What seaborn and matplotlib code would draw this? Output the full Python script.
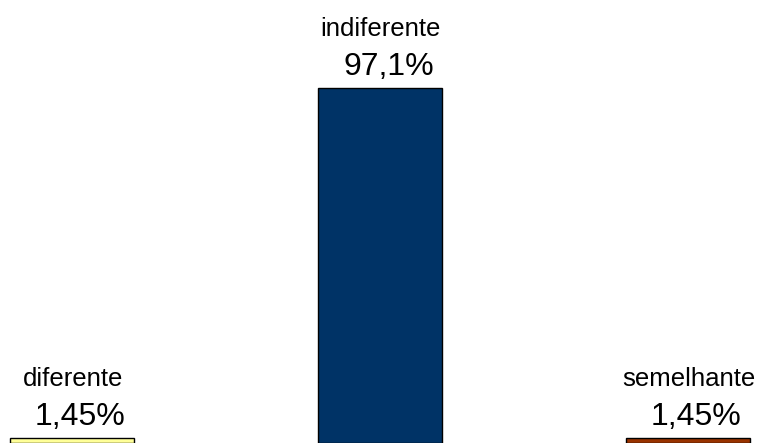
import matplotlib
matplotlib.use("Agg")
import matplotlib.pyplot as plt
import seaborn as sns
import pandas as pd

categories = ["diferente", "indiferente", "semelhante"]
values = [1.45, 97.1, 1.45]
value_labels = ["1,45%", "97,1%", "1,45%"]
colors = ["#FFFF99", "#003366", "#993300"]

sns.set_theme(style="white")
plt.rcParams["font.family"] = ["Liberation Sans", "DejaVu Sans"]

df = pd.DataFrame({"categoria": categories, "percentual": values})

fig = plt.figure(figsize=(7.62, 4.43), dpi=100)
ax = fig.add_axes([0, 0, 1, 1])

sns.barplot(data=df, x="categoria", y="percentual", hue="categoria",
            palette=colors, order=categories, hue_order=categories,
            width=0.4, edgecolor="black", linewidth=1.0, legend=False,
            saturation=1, ax=ax)

for i, (cat, val, lab) in enumerate(zip(categories, values, value_labels)):
    ax.annotate(lab, xy=(i, val), xytext=(6, 9.5), textcoords="offset points",
                ha="center", va="baseline", fontsize=23, color="black")
    ax.annotate(cat, xy=(i, val), xytext=(0.5, 37.5), textcoords="offset points",
                ha="center", va="baseline", fontsize=18.5, color="black")

ax.set_xlim(-0.234, 2.240)
ax.set_ylim(0, 121.2)
ax.axis("off")

fig.savefig("out.png", dpi=100, facecolor="white")
